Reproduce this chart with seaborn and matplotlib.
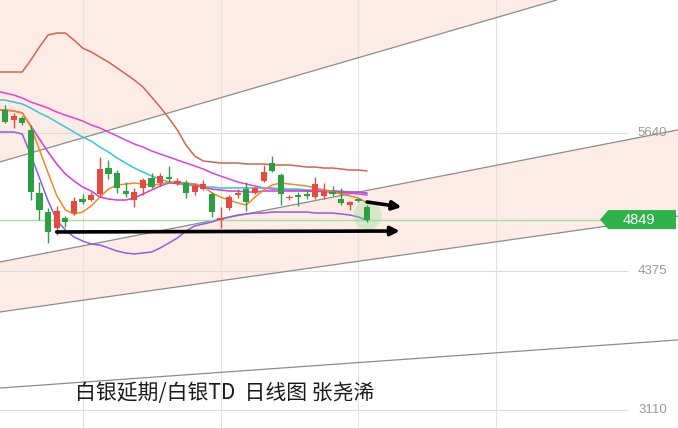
import matplotlib
matplotlib.use("Agg")
import matplotlib.pyplot as plt
from matplotlib.patches import Polygon
import numpy as np
import pandas as pd
import seaborn as sns

# daily candles, red = up day, green = down day
opens = [5850, 5759, 5780, 5667, 5092, 4921, 4770, 4864, 4909, 5037, 5028, 5083, 5317, 5272, 5113,
         5028, 5140, 5226, 5180, 5235, 5180, 5180, 5104, 5128, 5080, 4845, 4958, 5074, 5126, 5089,
         5202, 5363, 5256, 5043, 5074, 5074, 5058, 5065, 5104, 5034, 4982, 5028, 4961]
highs = [5896, 5823, 5795, 5713, 5195, 4955, 4973, 4885, 5058, 5083, 5104, 5421, 5393, 5302, 5195,
         5135, 5226, 5272, 5272, 5339, 5226, 5211, 5180, 5211, 5104, 4967, 5074, 5126, 5190, 5149,
         5348, 5433, 5272, 5074, 5104, 5113, 5241, 5180, 5156, 5135, 5022, 5043, 4982]
lows = [5731, 5686, 5713, 5028, 4845, 4635, 4708, 4784, 4891, 4995, 5019, 5058, 5217, 5089, 5058,
        4967, 5074, 5140, 5156, 5195, 5165, 5043, 5074, 5119, 4875, 4772, 4937, 5043, 4928, 5080,
        5195, 5287, 4982, 5028, 4973, 5034, 5034, 5034, 5065, 4982, 4937, 5013, 4830]
closes = [5740, 5795, 5729, 5104, 4937, 4738, 4930, 4830, 5019, 5013, 5074, 5311, 5265, 5135, 5083,
          5098, 5211, 5150, 5247, 5223, 5204, 5089, 5156, 5171, 4921, 4866, 5053, 5089, 5013, 5140,
          5287, 5296, 5080, 5058, 5058, 5065, 5174, 5104, 5083, 4998, 5013, 5022, 4849]

# indicator lines, starting one bar before the first visible candle
line_x = list(range(-1, 43))
boll_upper = [6197, 6197, 6197, 6197, 6307, 6426, 6535, 6553, 6553, 6489, 6416, 6380, 6334, 6288, 6234,
              6179, 6124, 6060, 5969, 5877, 5777, 5667, 5530, 5430, 5384, 5375, 5366, 5366, 5366, 5357,
              5357, 5357, 5348, 5348, 5348, 5339, 5329, 5329, 5320, 5320, 5311, 5302, 5302, 5293]
ma_slow = [6024, 6005, 5987, 5960, 5923, 5896, 5868, 5832, 5804, 5777, 5750, 5713, 5686, 5649, 5613,
           5576, 5540, 5512, 5476, 5448, 5421, 5393, 5366, 5339, 5311, 5275, 5247, 5220, 5192, 5174,
           5156, 5138, 5128, 5128, 5119, 5119, 5110, 5110, 5101, 5101, 5092, 5092, 5083, 5074]
ma_mid = [5941, 5941, 5923, 5905, 5868, 5823, 5786, 5740, 5695, 5649, 5603, 5567, 5512, 5466, 5412,
          5366, 5320, 5284, 5247, 5220, 5192, 5174, 5165, 5156, 5147, 5147, 5138, 5138, 5138, 5138,
          5138, 5138, 5138, 5128, 5128, 5128, 5119, 5119, 5119, 5110, 5110, 5101, 5101, 5083]
ma10 = [5850, 5850, 5841, 5823, 5704, 5585, 5466, 5357, 5266, 5202, 5147, 5110, 5055, 5037, 5028,
        5028, 5046, 5083, 5119, 5156, 5183, 5183, 5183, 5165, 5147, 5128, 5119, 5110, 5110, 5101,
        5101, 5110, 5110, 5110, 5110, 5110, 5110, 5110, 5110, 5110, 5101, 5101, 5101, 5092]
ma5 = [5850, 5850, 5841, 5823, 5695, 5485, 5275, 5069, 4937, 4900, 4918, 4973, 5055, 5128, 5165,
       5174, 5183, 5174, 5165, 5174, 5192, 5192, 5183, 5174, 5156, 5092, 5055, 5028, 5001, 4982,
       5055, 5119, 5165, 5183, 5174, 5165, 5156, 5138, 5119, 5101, 5083, 5065, 5046, 5001]
boll_lower = [5649, 5649, 5649, 5631, 5439, 5229, 5019, 4845, 4754, 4690, 4654, 4626, 4617, 4590, 4562,
              4544, 4535, 4544, 4553, 4590, 4635, 4681, 4745, 4791, 4809, 4827, 4854, 4873, 4891, 4900,
              4909, 4909, 4918, 4918, 4918, 4918, 4918, 4909, 4909, 4909, 4900, 4891, 4873, 4845]

# channel lines: value at bar 0 and bar 60
trend_x = [0, 60]
channel_top = [5389, 6763]
channel_upper = [4471, 5391]
channel_lower = [4012, 4680]
channel_bottom = [3314, 3649]

price_ticks = [6905, 5640, 4375, 3110]
last_price = 4849
grid_bars = [9, 25, 41, 57]
title = "白银延期/白银TD  日线图 张尧浠"

# arrows (bar, price)
flat_arrow = [(6, 4736), (45.8, 4745)]
short_arrow = [(42, 5010), (46, 4964)]

RED = "#e8493f"
GREEN = "#2e9e42"
PEACH = "#fcece5"

sns.set_theme(style="white")
plt.rcParams["font.family"] = ["Noto Sans CJK SC", "DejaVu Sans"]

fig = plt.figure(figsize=(6.78, 4.28), dpi=100)
ax = fig.add_axes([0, 0, 1, 1])
ax.set_xlim(-0.58, 78.07)
ax.set_ylim(2945.5, 6854.8)
ax.axis("off")


def channel(vals, xs):
    slope = (vals[1] - vals[0]) / (trend_x[1] - trend_x[0])
    return vals[0] + slope * (xs - trend_x[0])


xs = np.linspace(-2, 80, 50)
ax.fill_between(xs, channel(channel_top, xs), 8000, color=PEACH, zorder=0, lw=0)
ax.fill_between(xs, channel(channel_lower, xs), channel(channel_upper, xs), color=PEACH, zorder=0, lw=0)

for p in price_ticks:
    ax.axhline(p, xmax=0.925, color="#dcdcdc", lw=0.8, zorder=0.5)
    ax.text(0.984, p, str(p), transform=ax.get_yaxis_transform(), ha="right", va="center",
            fontsize=9.5, color="#9a9a9a", family="Liberation Sans")
for b in grid_bars:
    ax.axvline(b, color="#e6e2e0", lw=0.8, zorder=0.5)

for vals in (channel_top, channel_upper, channel_lower, channel_bottom):
    ax.axline((trend_x[0], vals[0]), (trend_x[1], vals[1]), color="#8c8c8c", lw=0.9, zorder=1)

ax.axhline(last_price, xmax=0.885, color="#a6dca6", lw=1.0, zorder=1)

lines = pd.DataFrame({"bar": line_x, "upper": boll_upper, "slow": ma_slow, "mid": ma_mid,
                      "ma10": ma10, "ma5": ma5, "lower": boll_lower})
styles = {
    "upper": "#cd6450",
    "slow": "#e040dc",
    "mid": "#35c6d6",
    "ma10": "#d936d6",
    "ma5": "#f2891c",
    "lower": "#8f5ee0",
}
for col, color in styles.items():
    sns.lineplot(data=lines, x="bar", y=col, ax=ax, color=color, linewidth=1.1, zorder=2)

candles = pd.DataFrame({"open": opens, "high": highs, "low": lows, "close": closes})
candles["bar"] = np.arange(len(candles))
candles["color"] = np.where(candles["close"] >= candles["open"], RED, GREEN)
body_lo = np.minimum(candles["open"], candles["close"])
body_h = np.maximum((candles["close"] - candles["open"]).abs(), 14)

ax.scatter([candles["bar"].iloc[-1]], [last_price + 40], s=420, color="#8fe08f", alpha=0.35,
           lw=0, zorder=2.5)
ax.vlines(candles["bar"], candles["low"], candles["high"], color=candles["color"], lw=1.0, zorder=3)
ax.bar(candles["bar"], body_h, bottom=body_lo, width=0.72, color=candles["color"], lw=0, zorder=3.1)

for (x0, y0), (x1, y1) in (flat_arrow, short_arrow):
    ax.annotate("", xy=(x1, y1), xytext=(x0, y0),
                arrowprops=dict(arrowstyle="-|>", color="black", lw=2.6, mutation_scale=13,
                                shrinkA=0, shrinkB=0), zorder=4)

# last price tag on the right
tag = Polygon([(0.885, last_price), (0.897, last_price + 87), (0.997, last_price + 87),
               (0.997, last_price - 87), (0.897, last_price - 87)], closed=True,
              transform=ax.get_yaxis_transform(), color="#2db34a", lw=0, zorder=5)
ax.add_patch(tag)
ax.text(0.943, last_price, str(last_price), transform=ax.get_yaxis_transform(), ha="center",
        va="center", fontsize=10.5, color="white", family="Liberation Sans", zorder=6)

fig.text(75 / 678, 1 - 393 / 428, title, fontsize=15, color="#1a1a1a", va="center", ha="left")

fig.savefig("out.png", dpi=100)
plt.close(fig)
